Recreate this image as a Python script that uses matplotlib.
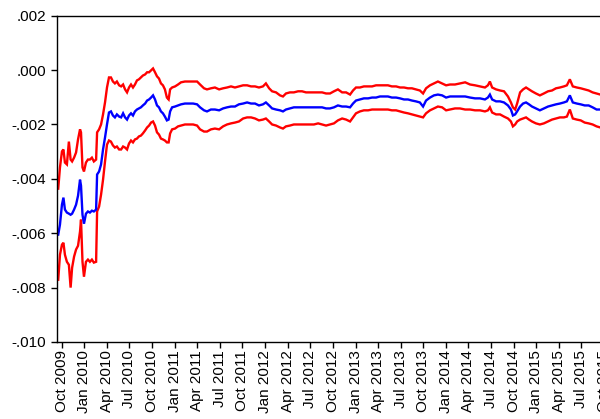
import matplotlib
matplotlib.use("Agg")
import matplotlib.pyplot as plt
import matplotlib.dates as mdates
from matplotlib.ticker import FuncFormatter, MultipleLocator
import pandas as pd

plt.rcParams["font.family"] = ["Liberation Sans", "DejaVu Sans"]

dates = [
    "2009-09-17", "2009-09-24", "2009-10-02", "2009-10-08", "2009-10-14", "2009-10-22",
    "2009-10-30", "2009-11-06", "2009-11-12", "2009-11-20", "2009-11-28", "2009-12-06",
    "2009-12-14", "2009-12-18", "2009-12-24", "2009-12-30", "2010-01-07", "2010-01-15",
    "2010-01-23", "2010-01-31", "2010-02-08", "2010-02-17", "2010-02-21", "2010-03-01",
    "2010-03-09", "2010-03-17", "2010-03-25", "2010-04-02", "2010-04-10", "2010-04-18",
    "2010-04-26", "2010-05-04", "2010-05-12", "2010-05-21", "2010-05-29", "2010-06-06",
    "2010-06-14", "2010-06-22", "2010-06-30", "2010-07-08", "2010-07-16", "2010-07-24",
    "2010-08-01", "2010-08-09", "2010-08-17", "2010-08-25", "2010-09-03", "2010-09-11",
    "2010-09-19", "2010-09-27", "2010-10-05", "2010-10-13", "2010-10-21", "2010-10-29",
    "2010-11-06", "2010-11-14", "2010-11-22", "2010-11-30", "2010-12-07", "2010-12-13",
    "2010-12-21", "2011-01-02", "2011-01-14", "2011-01-26", "2011-02-11", "2011-02-28",
    "2011-03-16", "2011-04-01", "2011-04-13", "2011-04-29", "2011-05-11", "2011-05-27",
    "2011-06-12", "2011-06-29", "2011-07-15", "2011-07-31", "2011-08-16", "2011-09-01",
    "2011-09-17", "2011-10-04", "2011-10-20", "2011-11-05", "2011-11-21", "2011-12-07",
    "2011-12-23", "2012-01-04", "2012-01-17", "2012-01-29", "2012-02-14", "2012-03-01",
    "2012-03-13", "2012-03-25", "2012-04-10", "2012-04-26", "2012-05-13", "2012-05-29",
    "2012-06-14", "2012-06-30", "2012-07-16", "2012-08-02", "2012-08-18", "2012-09-03",
    "2012-09-19", "2012-10-05", "2012-10-21", "2012-11-07", "2012-11-23", "2012-12-09",
    "2012-12-21", "2013-01-02", "2013-01-18", "2013-02-03", "2013-02-20", "2013-03-08",
    "2013-03-24", "2013-04-09", "2013-04-25", "2013-05-11", "2013-05-27", "2013-06-13",
    "2013-06-29", "2013-07-15", "2013-07-31", "2013-08-16", "2013-09-01", "2013-09-17",
    "2013-09-30", "2013-10-12", "2013-10-28", "2013-11-13", "2013-11-29", "2013-12-16",
    "2014-01-01", "2014-01-17", "2014-02-06", "2014-02-26", "2014-03-19", "2014-04-08",
    "2014-04-28", "2014-05-18", "2014-06-07", "2014-06-19", "2014-06-27", "2014-07-06",
    "2014-07-22", "2014-08-07", "2014-08-23", "2014-09-08", "2014-09-20", "2014-09-28",
    "2014-10-07", "2014-10-15", "2014-10-27", "2014-11-08", "2014-11-20", "2014-12-02",
    "2014-12-14", "2014-12-30", "2015-01-15", "2015-01-31", "2015-02-17", "2015-03-05",
    "2015-03-21", "2015-04-06", "2015-04-22", "2015-05-04", "2015-05-16", "2015-05-28",
    "2015-06-13", "2015-06-29", "2015-07-15", "2015-07-31", "2015-08-16", "2015-09-01",
    "2015-09-16",
]

# point estimate (thousandths)
estimate = [
    -6.05, -5.68, -4.95, -4.69, -5.13, -5.24, -5.28, -5.32, -5.28, -5.13, -4.95, -4.62,
    -4.03, -4.25, -5.32, -5.65, -5.28, -5.20, -5.24, -5.17, -5.20, -5.13, -3.84, -3.73,
    -3.47, -2.92, -2.48, -2.00, -1.56, -1.52, -1.67, -1.74, -1.63, -1.71, -1.74, -1.59,
    -1.74, -1.82, -1.67, -1.59, -1.67, -1.52, -1.45, -1.41, -1.37, -1.30, -1.23, -1.12,
    -1.08, -1.01, -0.93, -1.08, -1.30, -1.37, -1.52, -1.59, -1.71, -1.85, -1.82, -1.52,
    -1.37, -1.34, -1.30, -1.26, -1.23, -1.23, -1.23, -1.26, -1.37, -1.48, -1.52, -1.45,
    -1.45, -1.48, -1.41, -1.37, -1.34, -1.34, -1.26, -1.23, -1.19, -1.23, -1.23, -1.30,
    -1.26, -1.19, -1.30, -1.41, -1.45, -1.48, -1.52, -1.45, -1.41, -1.37, -1.37, -1.37,
    -1.37, -1.37, -1.37, -1.37, -1.37, -1.41, -1.41, -1.37, -1.30, -1.34, -1.34, -1.37,
    -1.23, -1.12, -1.08, -1.04, -1.04, -1.01, -1.01, -0.97, -0.97, -0.97, -1.01, -1.01,
    -1.04, -1.08, -1.08, -1.12, -1.15, -1.19, -1.34, -1.12, -1.01, -0.93, -0.90, -0.93,
    -1.01, -0.97, -0.97, -0.97, -0.97, -1.01, -1.04, -1.04, -1.08, -1.01, -0.90, -1.08,
    -1.15, -1.15, -1.19, -1.30, -1.45, -1.67, -1.63, -1.52, -1.34, -1.23, -1.19, -1.26,
    -1.34, -1.41, -1.48, -1.41, -1.34, -1.30, -1.26, -1.23, -1.19, -1.15, -0.93, -1.19,
    -1.23, -1.26, -1.30, -1.30, -1.37, -1.45, -1.45,
]

# upper band (thousandths)
upper = [
    -4.36, -3.58, -2.99, -2.92, -3.40, -3.47, -2.63, -3.29, -3.36, -3.22, -3.03, -2.55,
    -2.18, -2.29, -3.58, -3.73, -3.40, -3.29, -3.29, -3.22, -3.36, -3.29, -2.29, -2.18,
    -2.00, -1.63, -1.19, -0.64, -0.27, -0.27, -0.42, -0.49, -0.42, -0.56, -0.60, -0.53,
    -0.71, -0.82, -0.64, -0.53, -0.64, -0.53, -0.38, -0.34, -0.27, -0.20, -0.16, -0.08,
    -0.08, -0.01, 0.06, -0.08, -0.23, -0.31, -0.49, -0.56, -0.71, -1.01, -1.08, -0.71,
    -0.64, -0.60, -0.53, -0.45, -0.42, -0.42, -0.42, -0.42, -0.53, -0.67, -0.71, -0.67,
    -0.64, -0.71, -0.67, -0.64, -0.60, -0.64, -0.60, -0.56, -0.56, -0.60, -0.60, -0.64,
    -0.60, -0.49, -0.67, -0.78, -0.82, -0.93, -0.97, -0.86, -0.82, -0.82, -0.78, -0.78,
    -0.82, -0.82, -0.82, -0.82, -0.82, -0.86, -0.86, -0.78, -0.71, -0.82, -0.82, -0.90,
    -0.75, -0.64, -0.64, -0.60, -0.60, -0.60, -0.56, -0.56, -0.56, -0.56, -0.60, -0.60,
    -0.64, -0.64, -0.67, -0.67, -0.71, -0.75, -0.86, -0.67, -0.56, -0.49, -0.42, -0.49,
    -0.56, -0.53, -0.53, -0.49, -0.45, -0.53, -0.56, -0.60, -0.64, -0.56, -0.42, -0.64,
    -0.71, -0.75, -0.78, -0.97, -1.19, -1.37, -1.45, -1.23, -0.82, -0.71, -0.64, -0.71,
    -0.78, -0.86, -0.93, -0.86, -0.78, -0.75, -0.67, -0.64, -0.60, -0.56, -0.34, -0.60,
    -0.64, -0.67, -0.71, -0.75, -0.82, -0.86, -0.90,
]

# lower band (thousandths)
lower = [
    -7.71, -6.79, -6.42, -6.35, -6.79, -7.05, -7.16, -8.00, -7.27, -6.86, -6.60, -6.46,
    -5.94, -5.50, -7.05, -7.60, -7.05, -6.97, -7.05, -6.97, -7.08, -7.05, -5.20, -5.02,
    -4.58, -4.03, -3.36, -2.74, -2.59, -2.63, -2.77, -2.85, -2.81, -2.92, -2.92, -2.81,
    -2.85, -2.92, -2.70, -2.59, -2.66, -2.55, -2.52, -2.44, -2.41, -2.33, -2.22, -2.11,
    -2.04, -1.93, -1.89, -2.04, -2.29, -2.37, -2.52, -2.55, -2.59, -2.66, -2.66, -2.33,
    -2.18, -2.15, -2.07, -2.04, -2.00, -2.00, -2.00, -2.04, -2.18, -2.26, -2.26, -2.18,
    -2.15, -2.18, -2.07, -2.00, -1.96, -1.93, -1.89, -1.78, -1.74, -1.74, -1.78, -1.85,
    -1.82, -1.78, -1.89, -2.00, -2.04, -2.11, -2.15, -2.07, -2.04, -2.00, -2.00, -2.00,
    -2.00, -2.00, -2.00, -1.96, -2.00, -2.04, -2.00, -1.96, -1.85, -1.78, -1.82, -1.89,
    -1.74, -1.59, -1.52, -1.48, -1.48, -1.45, -1.45, -1.45, -1.45, -1.45, -1.48, -1.48,
    -1.52, -1.56, -1.59, -1.63, -1.67, -1.71, -1.74, -1.59, -1.48, -1.41, -1.34, -1.37,
    -1.48, -1.45, -1.41, -1.41, -1.45, -1.45, -1.48, -1.48, -1.52, -1.48, -1.37, -1.56,
    -1.63, -1.63, -1.71, -1.78, -1.89, -2.07, -2.00, -1.89, -1.82, -1.78, -1.74, -1.82,
    -1.89, -1.96, -2.00, -1.96, -1.89, -1.82, -1.78, -1.74, -1.74, -1.71, -1.45, -1.78,
    -1.82, -1.85, -1.93, -1.96, -2.00, -2.07, -2.11,
]

x = pd.to_datetime(dates)
scale = 1e-3

fig = plt.figure(figsize=(6.0, 4.19), dpi=100)
ax = fig.add_axes([0.095, 0.1838, 0.9195, 0.7787])

ax.plot(x, [v * scale for v in upper], color="#ff0000", lw=1.7, solid_joinstyle="miter")
ax.plot(x, [v * scale for v in lower], color="#ff0000", lw=1.7, solid_joinstyle="miter")
ax.plot(x, [v * scale for v in estimate], color="#0000ff", lw=1.7, solid_joinstyle="miter")

ax.set_xlim(pd.Timestamp("2009-09-12"), pd.Timestamp("2015-10-20"))
ax.set_ylim(-0.010, 0.002)

ax.yaxis.set_major_locator(MultipleLocator(0.002))


def fmt_y(v, pos):
    s = f"{v:.3f}"
    if s.startswith("-0"):
        s = "-" + s[2:]
    elif s.startswith("0"):
        s = s[1:]
    return s


ax.yaxis.set_major_formatter(FuncFormatter(fmt_y))
ax.xaxis.set_major_locator(mdates.MonthLocator(bymonth=[1, 4, 7, 10]))
ax.xaxis.set_major_formatter(mdates.DateFormatter("%b %Y"))

for lbl in ax.get_xticklabels():
    lbl.set_rotation(90)

ax.tick_params(axis="both", direction="out", length=4, width=1, colors="black",
               labelsize=11)
ax.tick_params(axis="y", pad=4)
ax.tick_params(axis="x", pad=2)

for side in ("left", "bottom", "top"):
    ax.spines[side].set_linewidth(1.0)
    ax.spines[side].set_color("black")
ax.spines["right"].set_visible(False)

fig.savefig("out.png", dpi=100)
